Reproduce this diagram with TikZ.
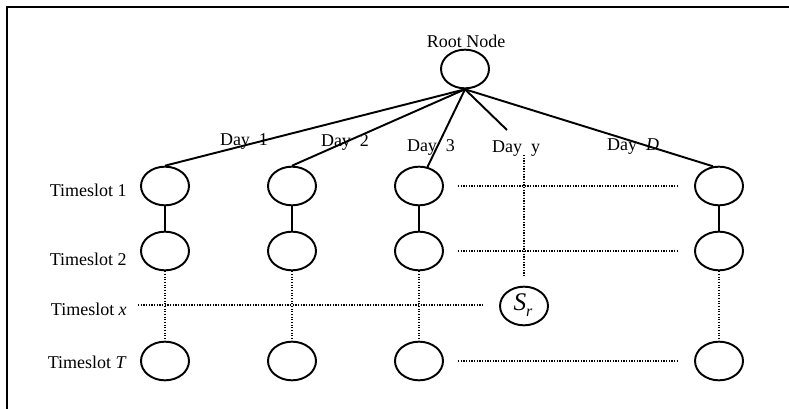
\documentclass[tikz,border=0pt]{standalone}
\usepackage{fontspec}
\setmainfont{Liberation Serif}
\usetikzlibrary{shapes.geometric}
\begin{document}
\begin{tikzpicture}[x=0.75pt,y=-0.75pt,
  state/.style={draw,ellipse,line width=1.45pt,minimum width=36pt,minimum height=29pt,inner sep=0pt},
  branch/.style={line width=1.45pt},
  dotline/.style={line width=0.9pt,dash pattern=on 0.9pt off 1.1pt},
  lbl/.style={font=\fontsize{13.5}{15}\selectfont,inner sep=0pt}]
\useasboundingbox (0,0) rectangle (789,409);
% frame (top and left edges only)
\draw[line width=1.8pt] (7,409) -- (7,7) -- (789,7);

% root
\node[state] (root) at (465,69) {};
\node[lbl] (rootlbl) at (466,41) {Root Node};

% grid of timeslot nodes
\foreach \c/\x in {1/165,2/292,3/419,D/719}{
  \node[state] (n\c-1) at (\x,186) {};
  \node[state] (n\c-2) at (\x,251) {};
  \node[state] (n\c-T) at (\x,361) {};
  \draw[branch] (n\c-1) -- (n\c-2);
  \draw[dotline] (n\c-2.south) -- (n\c-T.north);
}
\node[state] (sr) at (524,306) {};
\node[inner sep=0pt] (srlbl) at (523,305)
  {\fontsize{19}{20}\selectfont\textit{S}\raisebox{-0.45ex}{\fontsize{12}{13}\selectfont\textit{r}}};

% day branches
\coordinate (dayyend) at (507,130);
\draw[branch] (root.south) -- (n1-1.north);
\draw[branch] (root.south) -- (n2-1.north);
\draw[branch] (root.south) -- (n3-1.66);
\draw[branch] (root.south) -- (dayyend);
\draw[branch] (root.south) -- (nD-1.107);

% day labels
\node[lbl] (d1) at (244,142) {Day\ \ 1};
\node[lbl] (d2) at (345,142) {Day\ \ 2};
\node[lbl] (d3) at (431,147) {Day\ \ 3};
\node[lbl] (dy) at (516,149) {Day\ \ y};
\node[lbl] (dD) at (633,147) {Day\ \ \textit{D}};

% timeslot labels
\node[lbl,anchor=east] (t1) at (127,190) {Timeslot 1};
\node[lbl,anchor=east] (t2) at (127,259) {Timeslot 2};
\node[lbl,anchor=east] (tx) at (127,309) {Timeslot \textit{x}};
\node[lbl,anchor=east] (tT) at (127,362) {Timeslot \textit{T}};

% dotted continuation lines
\draw[dotline] ([xshift=10.5pt]n3-1.east) -- ([xshift=-11.5pt]nD-1.west);
\draw[dotline] ([xshift=10.5pt]n3-2.east) -- ([xshift=-11.5pt]nD-2.west);
\draw[dotline] ([xshift=10.5pt]n3-T.east) -- ([xshift=-11.5pt]nD-T.west);
\coordinate (xstart) at (138,305);
\draw[dotline] (xstart) -- ([xshift=-11pt]sr.west |- xstart);
\coordinate (ytop) at (524,155);
\draw[dotline] (ytop) -- ([yshift=7pt]sr.north);
\end{tikzpicture}
\end{document}
